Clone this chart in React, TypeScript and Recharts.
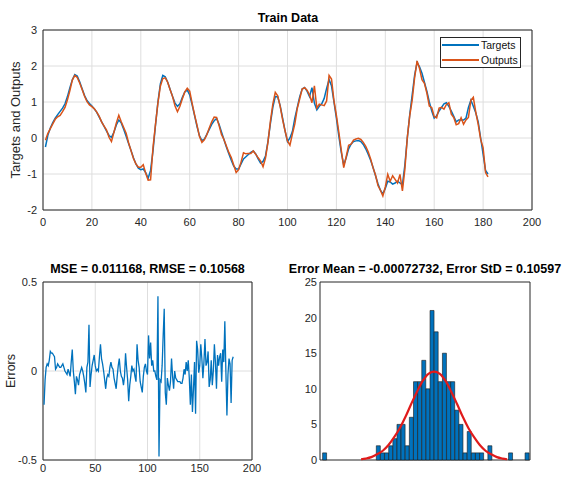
import React from 'react'
import {
  LineChart, Line, ComposedChart, Bar, XAxis, YAxis, CartesianGrid, ReferenceArea, Legend,
} from 'recharts'

const FONT = '"Liberation Sans", Arial, Helvetica, sans-serif'
const INK = '#262626'
const GRID = '#dedede'
const BLUE = '#0072BD'
const ORANGE = '#D95319'
const RED = '#e01b1b'

// train data, sample 1..182
const targets = [
  -0.25, 0.08, 0.28, 0.43, 0.55, 0.65, 0.74, 0.83, 0.95, 1.15,
  1.40, 1.62, 1.76, 1.72, 1.56, 1.37, 1.18, 1.04, 0.96, 0.89,
  0.81, 0.71, 0.58, 0.45, 0.32, 0.19, 0.07, 0.02, 0.16, 0.36,
  0.50, 0.42, 0.24, 0.05, -0.15, -0.35, -0.55, -0.72, -0.84, -0.88,
  -0.86, -0.96, -1.12, -0.90, -0.35, 0.35, 1.00, 1.50, 1.74, 1.70,
  1.55, 1.35, 1.15, 0.97, 0.88, 0.95, 1.13, 1.28, 1.33, 1.20,
  0.92, 0.62, 0.32, 0.06, -0.07, -0.03, 0.10, 0.24, 0.38, 0.48,
  0.54, 0.38, 0.17, -0.04, -0.25, -0.44, -0.62, -0.78, -0.86, -0.86,
  -0.72, -0.58, -0.52, -0.46, -0.40, -0.36, -0.44, -0.58, -0.70, -0.65,
  -0.50, -0.10, 0.40, 0.85, 1.15, 1.14, 0.90, 0.55, 0.20, -0.10,
  0.00, 0.18, 0.55, 0.85, 1.15, 1.36, 1.40, 1.30, 1.15, 1.40,
  0.97, 0.78, 0.88, 0.95, 1.10, 1.38, 1.62, 1.45, 1.00, 0.55,
  0.05, -0.40, -0.75, -0.55, -0.30, -0.17, -0.10, -0.08, -0.07, -0.10,
  -0.18, -0.30, -0.45, -0.62, -0.82, -1.05, -1.27, -1.45, -1.55, -1.40,
  -1.20, -1.22, -1.28, -1.25, -1.20, -1.25, -1.30, -0.75, 0.00, 0.65,
  1.20, 1.75, 2.10, 1.98, 1.80, 1.55, 1.30, 1.00, 0.75, 0.55,
  0.62, 0.75, 0.85, 0.95, 0.98, 0.88, 0.75, 0.60, 0.45, 0.50,
  0.50, 0.50, 0.55, 0.85, 1.05, 0.88, 0.70, 0.45, 0.00, -0.45,
  -0.90, -1.00,
]

const outputs = [
  -0.06, 0.13, 0.26, 0.39, 0.52, 0.59, 0.63, 0.73, 0.85, 1.06,
  1.32, 1.61, 1.74, 1.68, 1.53, 1.35, 1.16, 1.01, 0.92, 0.87,
  0.81, 0.72, 0.60, 0.44, 0.33, 0.22, 0.02, -0.10, 0.16, 0.42,
  0.63, 0.45, 0.29, 0.13, -0.13, -0.35, -0.57, -0.72, -0.81, -0.81,
  -0.74, -0.98, -1.17, -1.16, -0.26, 0.37, 0.97, 1.44, 1.65, 1.67,
  1.55, 1.34, 1.15, 0.89, 0.73, 0.88, 1.09, 1.28, 1.38, 1.30,
  0.96, 0.64, 0.35, 0.04, -0.12, -0.05, 0.09, 0.28, 0.45, 0.58,
  0.57, 0.35, 0.10, -0.04, -0.22, -0.40, -0.54, -0.75, -0.96, -0.88,
  -0.67, -0.41, -0.44, -0.43, -0.43, -0.36, -0.45, -0.55, -0.64, -0.80,
  -0.56, -0.12, 0.46, 0.94, 1.27, 1.17, 0.88, 0.51, 0.20, -0.08,
  -0.20, 0.11, 0.39, 0.82, 1.09, 1.36, 1.40, 1.33, 1.20, 0.98,
  1.45, 0.83, 0.94, 0.92, 0.90, 1.03, 1.74, 1.64, 1.04, 0.63,
  0.16, -0.34, -0.82, -0.52, -0.20, -0.17, -0.06, -0.03, -0.01, -0.04,
  -0.12, -0.23, -0.38, -0.58, -0.83, -1.03, -1.32, -1.45, -1.61, -1.36,
  -1.01, -1.20, -1.05, -1.15, -1.25, -1.01, -1.47, -0.87, 0.01, 0.62,
  1.05, 1.68, 2.14, 1.93, 1.62, 1.52, 1.25, 0.89, 0.84, 0.60,
  0.56, 0.83, 0.85, 0.80, 0.93, 0.98, 0.66, 0.57, 0.37, 0.40,
  0.56, 0.38, 0.50, 0.57, 1.05, 1.13, 0.72, 0.38, -0.04, -0.27,
  -0.96, -1.08,
]

const errors = [
  -0.19, -0.05, 0.02, 0.04, 0.03, 0.06, 0.11, 0.10, 0.10, 0.09,
  0.08, 0.01, 0.02, 0.04, 0.03, 0.02, 0.02, 0.03, 0.04, 0.02,
  0.00, -0.01, -0.02, 0.01, -0.01, -0.03, 0.05, 0.12, 0.00, -0.06,
  -0.13, -0.03, -0.05, -0.08, -0.02, 0.00, 0.02, 0.00, -0.03, -0.07,
  -0.12, 0.02, 0.05, 0.26, -0.09, -0.02, 0.03, 0.06, 0.09, 0.03,
  0.00, 0.01, 0.00, 0.08, 0.15, 0.07, 0.04, 0.00, -0.05, -0.10,
  -0.04, -0.02, -0.03, 0.02, 0.05, 0.02, 0.01, -0.04, -0.07, -0.10,
  -0.03, 0.03, 0.07, 0.00, -0.03, -0.04, -0.08, -0.03, 0.10, 0.02,
  -0.05, -0.17, -0.08, -0.03, 0.03, 0.00, 0.01, -0.03, -0.06, 0.15,
  0.06, 0.02, -0.06, -0.09, -0.12, -0.03, 0.02, 0.04, 0.00, -0.02,
  0.20, 0.07, 0.16, 0.03, 0.06, 0.00, 0.00, -0.03, -0.05, 0.42,
  -0.48, -0.05, -0.06, 0.03, 0.20, 0.35, -0.12, -0.19, -0.04, -0.08,
  -0.11, -0.06, 0.07, -0.03, -0.10, 0.00, -0.04, -0.05, -0.06, -0.06,
  -0.06, -0.07, -0.07, -0.04, 0.01, -0.02, 0.05, 0.00, 0.06, -0.04,
  -0.19, -0.02, -0.23, -0.10, 0.05, -0.24, 0.17, 0.12, -0.01, 0.03,
  0.15, 0.07, -0.04, 0.05, 0.18, 0.03, 0.05, 0.11, -0.09, -0.05,
  0.06, -0.08, 0.00, 0.15, 0.05, -0.10, 0.09, 0.03, 0.08, 0.10,
  -0.06, 0.12, 0.05, 0.28, 0.00, -0.25, -0.02, 0.07, 0.04, -0.18,
  0.06, 0.08,
]

// histogram of errors (50 bins) and the fitted normal curve
const binCenters = [
  -0.4794, -0.4613, -0.4432, -0.4251, -0.4070, -0.3889, -0.3708, -0.3527, -0.3346, -0.3165,
  -0.2984, -0.2803, -0.2622, -0.2441, -0.2260, -0.2079, -0.1898, -0.1717, -0.1536, -0.1355,
  -0.1174, -0.0993, -0.0812, -0.0631, -0.0450, -0.0269, -0.0088, 0.0093, 0.0274, 0.0455,
  0.0636, 0.0817, 0.0998, 0.1179, 0.1360, 0.1541, 0.1722, 0.1903, 0.2084, 0.2265,
  0.2446, 0.2627, 0.2808, 0.2989, 0.3170, 0.3351, 0.3532, 0.3713, 0.3894, 0.4075,
]
const binCounts = [
  1, 0, 0, 0, 0, 0, 0, 0, 0, 0,
  0, 0, 0, 2, 1, 1, 2, 3, 5, 5,
  2, 6, 11, 11, 14, 10, 21, 18, 11, 15,
  11, 11, 7, 5, 1, 4, 1, 1, 1, 0,
  2, 0, 0, 0, 0, 1, 0, 0, 0, 1,
]
const fitX = [
  -0.32, -0.3, -0.275, -0.25, -0.225, -0.2, -0.175, -0.15, -0.125, -0.1, -0.075, -0.05, -0.025,
  0, 0.025, 0.05, 0.075, 0.1, 0.125, 0.15, 0.175, 0.2, 0.225, 0.25, 0.275, 0.3, 0.32,
]
const fitY = [
  0.1, 0.2, 0.4, 0.8, 1.3, 2.1, 3.2, 4.5, 6.1, 7.9, 9.6, 11.1, 12.1,
  12.4, 12.1, 11.1, 9.6, 7.9, 6.1, 4.5, 3.2, 2.1, 1.3, 0.8, 0.4, 0.2, 0.1,
]

const seriesNames = ['Targets', 'Outputs']
const seriesColors = [BLUE, ORANGE]

const trainXTicks = [0, 20, 40, 60, 80, 100, 120, 140, 160, 180, 200]
const trainYTicks = [-2, -1, 0, 1, 2, 3]
const errXTicks = [0, 50, 100, 150, 200]
const errYTicks = [-0.5, 0, 0.5]
const histXTicks = [-0.4, -0.2, 0, 0.2, 0.4]
const histYTicks = [0, 5, 10, 15, 20, 25]

const trainRows = targets.map((t, i) => ({ idx: i + 1, target: t, output: outputs[i] }))
const errRows = errors.map((e, i) => ({ idx: i + 1, err: e }))
const histRows = binCenters.map((c, i) => ({ center: c, count: binCounts[i] }))
const fitRows = fitX.map((x, i) => ({ x, y: fitY[i] }))

const tick = { fontSize: 11, fill: INK, fontFamily: FONT }

// bottom row x labels sit close to the page edge
const LowTick = ({ x, y, payload }: any) => (
  <text x={x} y={y + 4} textAnchor="middle" fontSize={11} fill={INK} fontFamily={FONT}>
    {payload.value}
  </text>
)

// MATLAB style legend box, fixed order
const TrainLegend = () => (
  <div style={{
    border: `1px solid ${INK}`, background: '#fff', width: 79, height: 29,
    fontFamily: FONT, fontSize: 10.5, color: '#111', lineHeight: '14.5px',
  }}>
    {seriesNames.map((name, i) => (
      <div key={name} style={{ display: 'flex', alignItems: 'center', height: 14.5 }}>
        <div style={{ width: 37, height: 2, background: seriesColors[i], marginLeft: 1, marginRight: 2, flexShrink: 0 }} />
        <span>{name}</span>
      </div>
    ))}
  </div>
)

export default function App() {
  return (
    <div style={{ position: 'absolute', left: 0, top: 0, width: 569, height: 478, background: '#fff', fontFamily: FONT }}>
      <div style={{ position: 'absolute', left: 0, top: 0 }}>
        <LineChart width={569} height={232} data={trainRows} margin={{ top: 30, right: 37, bottom: 0, left: 0 }}>
          <CartesianGrid stroke={GRID} />
          <XAxis type="number" dataKey="idx" domain={[0, 200]} ticks={trainXTicks} interval={0}
            height={22} axisLine={false} tickLine={false} tick={tick} />
          <YAxis type="number" domain={[-2, 3]} ticks={trainYTicks} interval={0} width={43}
            tickMargin={0} axisLine={false} tickLine={false} tick={tick} />
          <ReferenceArea x1={0} x2={200} y1={-2} y2={3} fill="none" stroke={INK} strokeWidth={1} ifOverflow="visible" />
          <Line type="linear" dataKey="target" name={seriesNames[0]} stroke={seriesColors[0]} strokeWidth={1.5} dot={false} isAnimationActive={false} />
          <Line type="linear" dataKey="output" name={seriesNames[1]} stroke={seriesColors[1]} strokeWidth={1.5} dot={false} isAnimationActive={false} />
          <Legend layout="horizontal" align="center" verticalAlign="middle" content={<TrainLegend />}
            wrapperStyle={{ top: 37, left: 440, width: 81 }} />
        </LineChart>
      </div>

      <div style={{ position: 'absolute', left: 0, top: 250 }}>
        <LineChart width={290} height={228} data={errRows} margin={{ top: 32, right: 38, bottom: 0, left: 0 }}>
          <CartesianGrid stroke={GRID} />
          <XAxis type="number" dataKey="idx" domain={[0, 200]} ticks={errXTicks} interval={0}
            height={18} axisLine={false} tickLine={false} tick={<LowTick />} />
          <YAxis type="number" domain={[-0.5, 0.5]} ticks={errYTicks} interval={0} width={43}
            tickMargin={0} axisLine={false} tickLine={false} tick={tick} allowDataOverflow />
          <ReferenceArea x1={0} x2={200} y1={-0.5} y2={0.5} fill="none" stroke={INK} strokeWidth={1} ifOverflow="visible" />
          <Line type="linear" dataKey="err" stroke={BLUE} strokeWidth={1.3} dot={false} isAnimationActive={false} />
        </LineChart>
      </div>

      <div style={{ position: 'absolute', left: 280, top: 250 }}>
        <ComposedChart width={289} height={228} data={histRows} barCategoryGap={0} barGap={0}
          margin={{ top: 32, right: 39, bottom: 0, left: 0 }}>
          <XAxis xAxisId="bin" dataKey="center" type="category" hide padding={{ left: 2.6, right: 0.8 }} />
          <XAxis xAxisId="num" dataKey="x" type="number" domain={[-0.5, 0.42]} ticks={histXTicks} interval={0}
            height={18} axisLine={false} tickLine={false} tick={<LowTick />} allowDataOverflow />
          <YAxis type="number" domain={[0, 25]} ticks={histYTicks} interval={0} width={40}
            tickMargin={-3} axisLine={false} tickLine={false} tick={tick} />
          <Bar xAxisId="bin" dataKey="count" fill={BLUE} stroke="#1a1a1a" strokeWidth={0.6} isAnimationActive={false} />
          <Line xAxisId="num" data={fitRows} dataKey="y" type="monotone" stroke={RED} strokeWidth={2.2}
            dot={false} isAnimationActive={false} />
          <ReferenceArea xAxisId="num" x1={-0.5} x2={0.42} y1={0} y2={25} fill="none" stroke={INK} strokeWidth={1} ifOverflow="visible" />
        </ComposedChart>
      </div>

      <svg width={569} height={478} style={{ position: 'absolute', left: 0, top: 0, pointerEvents: 'none' }}
        fontFamily={FONT}>
        <text x={288} y={21.5} textAnchor="middle" fontSize={12.5} fontWeight="bold" fill="#000">Train Data</text>
        <text transform="translate(19.5,120) rotate(-90)" textAnchor="middle" fontSize={13} fill={INK}>Targets and Outputs</text>
        <text x={147.5} y={273} textAnchor="middle" fontSize={12.5} fontWeight="bold" fill="#000">MSE = 0.011168, RMSE = 0.10568</text>
        <text transform="translate(15,371) rotate(-90)" textAnchor="middle" fontSize={12.5} fill={INK}>Errors</text>
        <text x={425} y={273} textAnchor="middle" fontSize={12.5} fontWeight="bold" fill="#000">Error Mean = -0.00072732, Error StD = 0.10597</text>
      </svg>
    </div>
  )
}
